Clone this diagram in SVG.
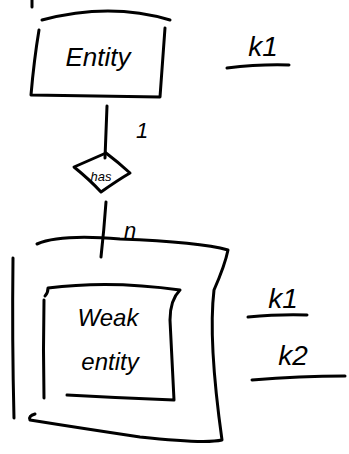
<svg xmlns="http://www.w3.org/2000/svg" width="349" height="454" viewBox="0 0 349 454">
<style>
.s{fill:none;stroke:#000;stroke-width:3;stroke-linecap:round;stroke-linejoin:round}
.t{font-family:"Liberation Sans",sans-serif;font-style:italic;fill:#000}
</style>
<rect width="349" height="454" fill="#fff"/>
<g id="connectors">
<path class="s" d="M32 0 L32 7"/>
<path class="s" d="M107 106 Q106 135 105 158"/>
<path class="s" d="M106 202 Q104 230 101 257"/>
<text class="t" x="136" y="138" font-size="22">1</text>
<text class="t" x="124" y="238" font-size="22">n</text>
</g>
<g id="entity">
<path class="s" d="M42 20 Q110 2 170 20"/>
<path class="s" d="M39 30 Q34 60 31 95 L160 97 L165 28"/>
<text class="t" x="98" y="66" font-size="26" text-anchor="middle">Entity</text>
</g>
<g id="entity-key">
<text class="t" x="263" y="56" font-size="28" text-anchor="middle">k1</text>
<path class="s" d="M227 68 Q260 64 289 65"/>
</g>
<g id="has">
<path class="s" d="M106 153 L74 167 Q90 180 101 192 Q118 180 130 173 Q118 162 106 153"/>
<text class="t" x="101" y="181" font-size="13" text-anchor="middle">has</text>
</g>
<g id="weak-entity">
<path class="s" d="M37 244 Q60 234 120 239 Q200 242 228 250 Q225 265 214 290 Q208 340 222 440 Q205 444 140 437 Q80 428 30 420 Q28 416 35 414"/>
<path class="s" d="M13 258 Q12 340 14 418"/>
<path class="s" d="M45 296 Q48 293 48 288 Q110 280 180 290 Q170 300 170 320 Q172 360 174 400 Q120 398 67 395"/>
<path class="s" d="M44 300 Q43 350 44 398"/>
<text class="t" x="108" y="326" font-size="24" text-anchor="middle">Weak</text>
<text class="t" x="110" y="370" font-size="24" text-anchor="middle">entity</text>
</g>
<g id="weak-keys">
<text class="t" x="283" y="308" font-size="28" text-anchor="middle">k1</text>
<path class="s" d="M248 317 Q280 314 307 315"/>
<text class="t" x="293" y="365" font-size="28" text-anchor="middle">k2</text>
<path class="s" d="M252 380 Q300 376 345 376"/>
</g>
</svg>
